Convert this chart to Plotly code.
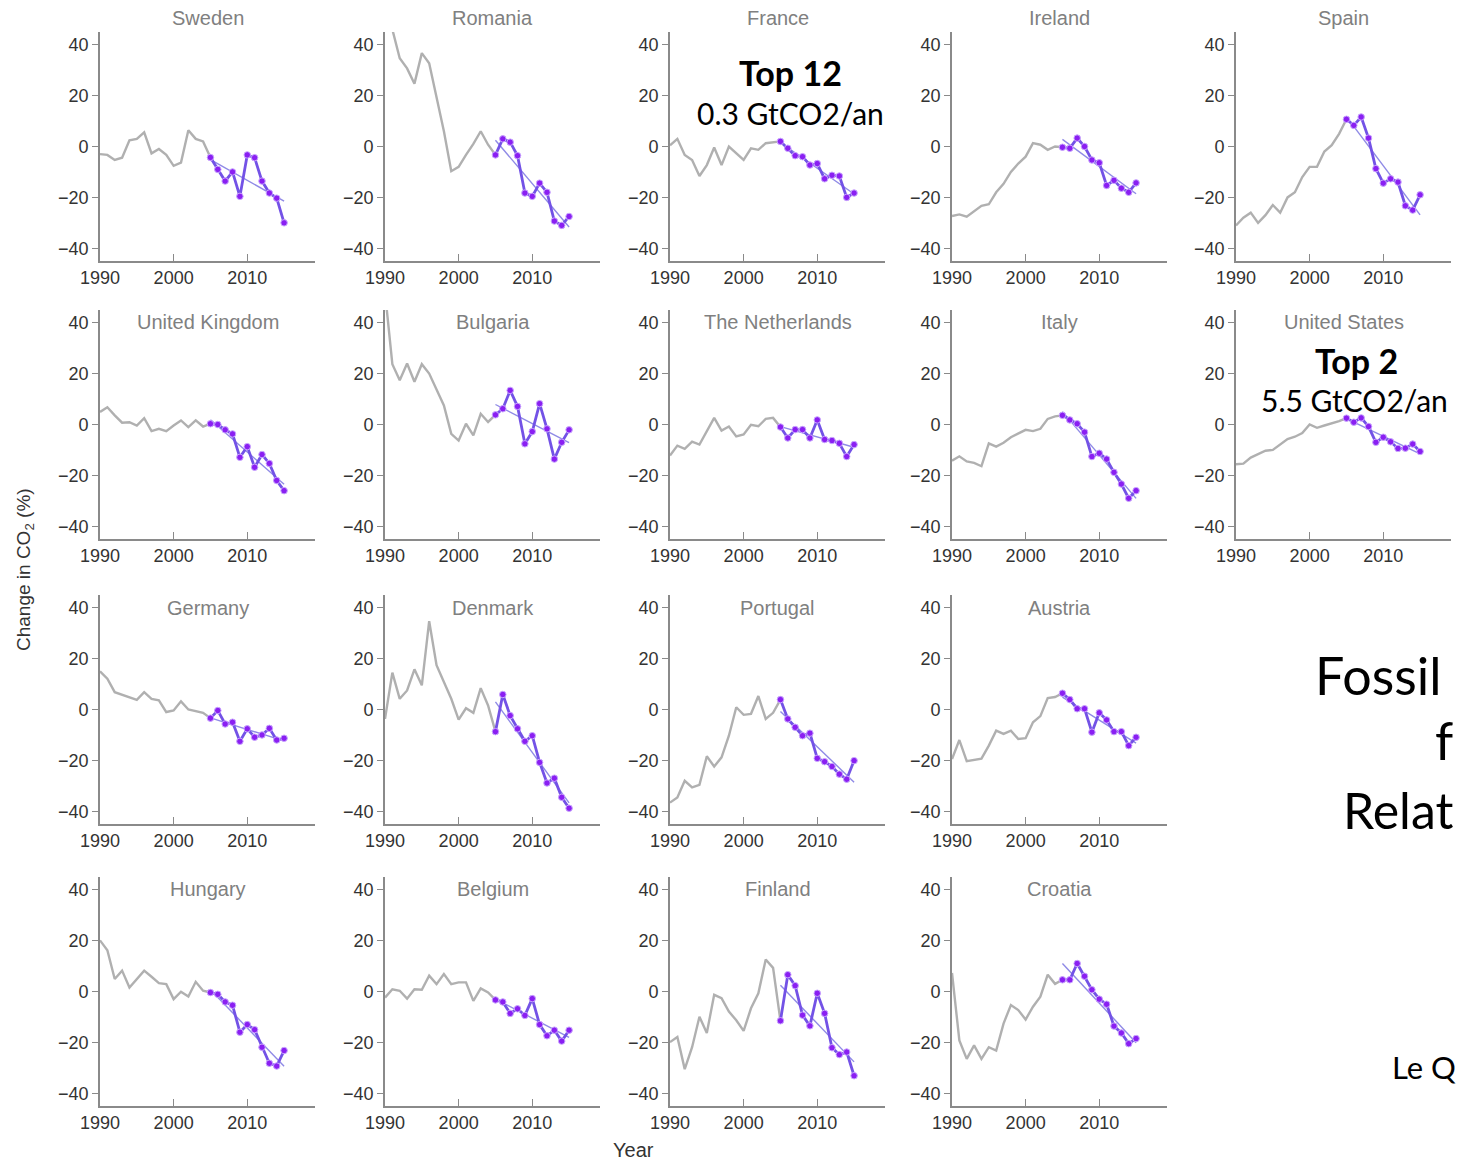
import numpy as np
import plotly.graph_objects as go

W, H = 1457, 1160
years = list(range(1990, 2016))

sweden = [-3, -3.3, -5.3, -4.4, 2.4, 3, 5.6, -2.7, -1, -3.3, -7.6, -6.3, 6.4, 3, 2, -4.3, -9, -13.6, -10, -19.6, -3.3, -4.4, -13.6, -18.3, -20.3, -30]
romania = [68, 46, 34.7, 30.7, 24.7, 36.7, 32.7, 19, 6, -9.7, -8, -3.3, 1, 6, 0.7, -3.3, 3, 1.7, -3.6, -18.3, -19.6, -14.4, -18, -29.3, -31, -27.5]
france = [0.5, 3, -3.3, -5.3, -11.6, -7.3, -0.4, -7.3, 0, -2.7, -5.3, -0.7, -1.3, 1.3, 1.6, 2, -0.7, -3.6, -4, -7.3, -6.7, -12.7, -11.3, -11.6, -20, -18.3]
ireland = [-27.3, -26.7, -27.6, -25.3, -23.3, -22.7, -18, -14.7, -10, -6.7, -4, 1.3, 0.7, -1.3, 0, -0.3, -0.7, 3.3, 0, -5.3, -6.4, -15.3, -13.3, -16.4, -18, -14.3]
spain = [-31, -28, -26, -30, -27, -23, -26, -20, -18, -12, -8, -8, -2, 0.5, 5, 10.7, 8.3, 11.6, 3.3, -8.7, -14.4, -12.7, -14, -23.3, -25, -19]
uk = [4.9, 6.8, 3.6, 0.7, 0.9, -0.4, 2.5, -2.6, -1.7, -2.6, -0.4, 1.6, -1, 1.6, -0.8, 0.3, 0, -2.1, -3.7, -12.9, -8.7, -16.8, -11.8, -15.3, -22, -26]
bulgaria = [52, 23.7, 17.4, 24, 16.8, 23.7, 20, 13.4, 7.5, -3.7, -6.3, 0.3, -4.3, 4.2, 1, 3.8, 6.2, 13.4, 7.1, -7.6, -2.8, 8.2, -1.7, -13.6, -7, -2.1]
netherlands = [-12.2, -8.3, -9.6, -6.7, -7.9, -2.4, 2.6, -2.4, -0.8, -4.7, -3.9, -0.1, -0.7, 2.2, 2.6, -1, -5.3, -2, -2, -5.3, 1.8, -5.9, -6.3, -7.4, -12.6, -7.9]
italy = [-14.2, -12.5, -14.5, -15.1, -16.4, -7.4, -8.7, -7.2, -5, -3.7, -2.1, -2.6, -1.7, 2.2, 3.2, 3.6, 1.8, 0.3, -3, -12.6, -11.3, -13.6, -18.8, -23.4, -29, -26]
us = [-15.6, -15.4, -13, -11.7, -10.3, -10, -7.7, -5.7, -4.8, -3.4, 0, -1.3, -0.4, 0.3, 1.3, 2.5, 0.9, 2.6, -0.8, -7, -5, -6.8, -9.4, -9.3, -7.7, -10.6]
germany = [15, 12.1, 6.8, 5.8, 4.5, 3.8, 6.8, 4.2, 3.6, -1, -0.4, 3.2, 0, -0.8, -1.3, -3.4, -0.4, -5.7, -5, -12.5, -7.6, -10.9, -10, -7.4, -12, -11.3]
denmark = [-3.7, 14.5, 4.2, 7.5, 15.8, 9.5, 34.7, 17.4, 10.8, 4.2, -4, 0.5, -1.3, 8.4, 1.6, -8.7, 5.9, -2.4, -7.6, -12.5, -10.3, -20.8, -28.9, -27, -34.5, -38.8]
portugal = [-36.6, -34.6, -28, -30.6, -29.6, -18.4, -22.4, -18.8, -10.3, 0.9, -2.1, -1.7, 5.3, -3.7, -1.3, 3.9, -3.7, -7, -10.3, -9.3, -19.2, -20.5, -22.4, -25.4, -27.4, -20.1]
austria = [-19.5, -12, -20.3, -19.9, -19.3, -14.2, -8.3, -9.6, -8.3, -11.6, -11.3, -5, -2.6, 4.5, 4.9, 6.4, 3.9, 0.3, 0.3, -8.9, -1.3, -4.1, -8.7, -8.7, -14.2, -10.9]
hungary = [20.1, 16.2, 4.9, 8.2, 1.6, 4.9, 8.2, 5.8, 3.3, 2.9, -3, -0.1, -2, 3.8, 0.3, -0.4, -1.1, -4.1, -5.4, -16, -13, -15, -21.9, -28.2, -29.3, -23.2]
belgium = [-2.4, 0.9, 0.3, -2.8, 0.9, 0.7, 6.2, 2.9, 6.9, 2.9, 3.6, 3.6, -3.7, 1.2, -0.4, -3.3, -4.1, -8.6, -6.8, -9.4, -2.8, -13, -17.4, -15.2, -19.5, -15.2]
finland = [-19.9, -17.9, -30.5, -21.9, -9.9, -16.3, -1.3, -2.6, -7.9, -11.3, -15.5, -6.6, -0.7, 12.6, 9.3, -11.5, 6.6, 2.3, -9.3, -13.5, -0.7, -8.6, -22.1, -24.8, -23.8, -33.1]
croatia = [7.3, -19.2, -26.5, -21.2, -26.5, -21.9, -23.2, -12.6, -5.3, -7.3, -11, -6, -2, 6.6, 3, 4.6, 4.6, 11, 6, 0.7, -3, -5, -13.6, -16.3, -20.5, -18.5]

panels = [
    ("Sweden", sweden), ("Romania", romania), ("France", france), ("Ireland", ireland), ("Spain", spain),
    ("United Kingdom", uk), ("Bulgaria", bulgaria), ("The Netherlands", netherlands), ("Italy", italy), ("United States", us),
    ("Germany", germany), ("Denmark", denmark), ("Portugal", portugal), ("Austria", austria), None,
    ("Hungary", hungary), ("Belgium", belgium), ("Finland", finland), ("Croatia", croatia), None,
]

x_ticks = [1990, 2000, 2010]
y_ticks = [-40, -20, 0, 20, 40]
recent_start = 2005

col_left = [100, 385, 670, 952, 1236]
panel_w = 215
row_top = [32, 310, 595, 877]
panel_h = 229
title_y = [18, 322, 608, 889]

GREY = "#b0b0b0"
PURPLE_LINE = "#7352e6"
PURPLE_DOT = "#8a1ff2"
TREND = "#8f8ae6"
AXIS = "#8a8a8a"
TXT = "#333333"

fig = go.Figure()
layout = dict(
    width=W, height=H, margin=dict(l=0, r=0, t=0, b=0, autoexpand=False),
    paper_bgcolor="white", plot_bgcolor="white", showlegend=False,
    font=dict(family="Liberation Sans, Arial, sans-serif", color=TXT),
)
annotations = []

k = 0
for idx, p in enumerate(panels):
    if p is None:
        continue
    k += 1
    name, vals = p
    r, c = divmod(idx, 5)
    xa = "x" if k == 1 else f"x{k}"
    ya = "y" if k == 1 else f"y{k}"
    x0 = col_left[c] / W
    x1 = (col_left[c] + panel_w) / W
    y1 = 1 - row_top[r] / H
    y0 = 1 - (row_top[r] + panel_h) / H
    common = dict(showgrid=False, zeroline=False, showline=True, linecolor=AXIS, linewidth=1.6,
                  tickcolor=AXIS, tickfont=dict(size=18, color=TXT), automargin=False)
    layout["xaxis" if k == 1 else f"xaxis{k}"] = dict(
        domain=[x0, x1], anchor=ya, range=[1990, 2019.2], tickvals=x_ticks,
        ticks="inside", ticklen=7, **common)
    layout["yaxis" if k == 1 else f"yaxis{k}"] = dict(
        domain=[y0, y1], anchor=xa, range=[-45, 45], tickvals=y_ticks,
        ticks="outside", ticklen=6, **common)

    i0 = years.index(recent_start)
    fig.add_trace(go.Scatter(x=years[:i0 + 1], y=vals[:i0 + 1], xaxis=xa, yaxis=ya,
                             mode="lines", line=dict(color=GREY, width=2.4), hoverinfo="skip"))
    ry = years[i0:]
    rv = vals[i0:]
    slope, inter = np.polyfit(ry, rv, 1)
    fig.add_trace(go.Scatter(x=[ry[0], ry[-1]], y=[slope * ry[0] + inter, slope * ry[-1] + inter],
                             xaxis=xa, yaxis=ya, mode="lines",
                             line=dict(color=TREND, width=1.4), hoverinfo="skip"))
    fig.add_trace(go.Scatter(x=ry, y=rv, xaxis=xa, yaxis=ya, mode="lines+markers",
                             line=dict(color=PURPLE_LINE, width=2.8),
                             marker=dict(color=PURPLE_DOT, size=6.5, line=dict(color="#c9a6ff", width=1)),
                             hoverinfo="skip"))
    annotations.append(dict(text=name, x=(col_left[c] + panel_w / 2) / W, y=1 - title_y[r] / H,
                            xref="paper", yref="paper", xanchor="center", yanchor="middle",
                            showarrow=False, font=dict(size=20, color="#808080")))

# axis titles
annotations.append(dict(text="Change in CO<sub>2</sub> (%)", x=25 / W, y=1 - 570 / H, xref="paper", yref="paper",
                        textangle=-90, showarrow=False, font=dict(size=19, color=TXT),
                        xanchor="center", yanchor="middle"))
annotations.append(dict(text="Year", x=633 / W, y=1 - 1150 / H, xref="paper", yref="paper",
                        showarrow=False, font=dict(size=20, color=TXT), xanchor="center", yanchor="middle"))

# overlay labels
BIG = "Lato, Noto Sans, sans-serif"
overlay = [
    ("<b>Top 12</b>", 790, 73, 34), ("0.3 GtCO2/an", 790, 113, 30),
    ("<b>Top 2</b>", 1356, 361, 34), ("5.5 GtCO2/an", 1354, 400, 30),
]
for txt, ox, oy, fs in overlay:
    annotations.append(dict(text=txt, x=ox / W, y=1 - oy / H, xref="paper", yref="paper", showarrow=False,
                            xanchor="center", yanchor="middle", font=dict(size=fs, color="black", family=BIG)))

side = [("Fossil", 1313, 675, 52, "left"), ("f", 1455, 740, 52, "right"),
        ("Relat", 1455, 810, 50, "right"), ("Le Q", 1390, 1067, 31, "left")]
for txt, sx, sy, fs, anc in side:
    annotations.append(dict(text=txt, x=sx / W, y=1 - sy / H, xref="paper", yref="paper", showarrow=False,
                            xanchor=anc, yanchor="middle", font=dict(size=fs, color="black", family=BIG)))

layout["annotations"] = annotations
fig.update_layout(**layout)
fig.write_html("out.html")
